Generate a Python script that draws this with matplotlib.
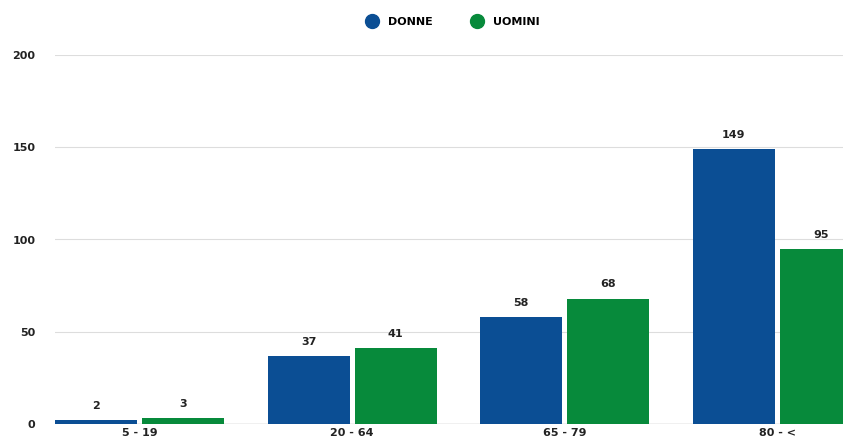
import numpy as np
import matplotlib
matplotlib.use('Agg')
import matplotlib.pyplot as plt
from matplotlib.lines import Line2D

plt.rcParams['font.family'] = ['Liberation Sans Narrow', 'DejaVu Sans']

categories = ['5 - 19', '20 - 64', '65 - 79', '80 - <']
donne = [2, 37, 58, 149]
uomini = [3, 41, 68, 95]
yticks = [0, 50, 100, 150, 200]

blue = '#0b4e94'
green = '#078a3b'

fig = plt.figure(figsize=(8.43, 4.48), dpi=100)
ax = fig.add_axes([55 / 843, 24 / 448, 788 / 843, 369 / 448])

x = np.arange(len(categories))
w = 0.386
off = 0.205
b1 = ax.bar(x - off, donne, w, color=blue, zorder=3)
b2 = ax.bar(x + off, uomini, w, color=green, zorder=3)

for bars, vals in [(b1, donne), (b2, uomini)]:
    for b, v in zip(bars, vals):
        ax.text(b.get_x() + b.get_width() / 2, v + 5, str(v), ha='center', va='bottom',
                fontsize=8, fontweight='bold', color='#222222')

ax.set_xlim(-0.398, 3.31)
ax.set_ylim(0, 200)
ax.set_yticks(yticks)
ax.set_yticklabels([str(t) for t in yticks], fontsize=8, fontweight='bold', color='#222222')
ax.set_xticks(x)
ax.set_xticklabels(categories, fontsize=8, fontweight='bold', color='#222222')
ax.tick_params(axis='both', length=0)
ax.tick_params(axis='y', pad=14)
ax.tick_params(axis='x', pad=3)
ax.grid(axis='y', color='#dddddd', linewidth=0.8, zorder=0)
for s in ax.spines.values():
    s.set_visible(False)
ax.axhline(0, color='#bbbbbb', linewidth=1, zorder=2)

handles = [Line2D([], [], marker='o', linestyle='', markersize=10, color=blue),
           Line2D([], [], marker='o', linestyle='', markersize=10, color=green)]
fig.legend(handles, ['DONNE', 'UOMINI'], loc='center', bbox_to_anchor=(0.534, 0.952), ncol=2,
           frameon=False, handletextpad=0.4, columnspacing=3.0,
           prop={'size': 8, 'weight': 'bold'})

fig.savefig('out.png', dpi=100)
